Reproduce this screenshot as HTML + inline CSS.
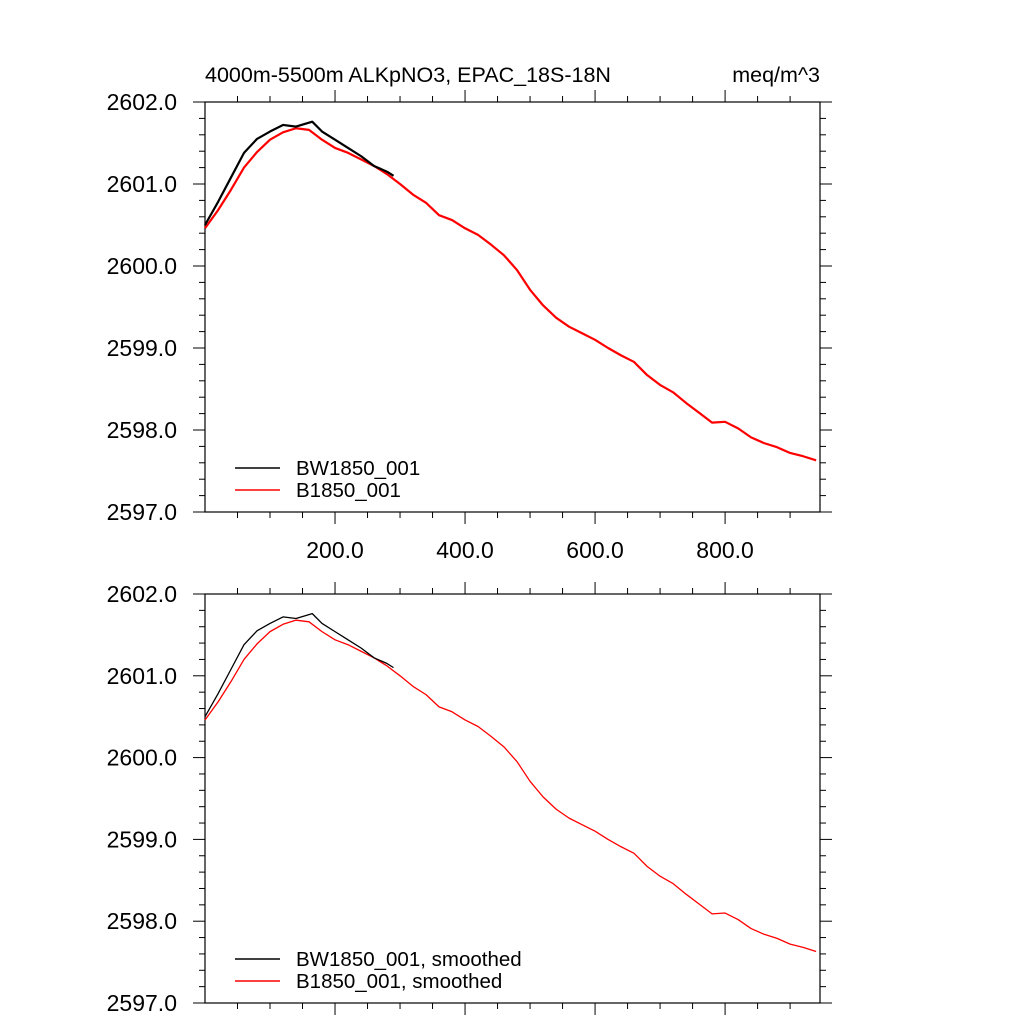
<!DOCTYPE html>
<html><head><meta charset="utf-8"><style>
body{margin:0;background:#fff}
svg text{font-family:"Liberation Sans",sans-serif;fill:#000}
</style></head><body>
<svg id="c" width="1024" height="1024" viewBox="0 0 1024 1024">
<text x="205" y="82" font-size="21.5">4000m-5500m ALKpNO3, EPAC_18S-18N</text>
<text x="820" y="82" font-size="21.5" text-anchor="end">meq/m^3</text>
</svg>
<script>
const xRed=[0,20,40,60,80,100,120,140,160,180,200,220,240,260,280,300,320,340,360,380,400,420,440,460,480,500,520,540,560,580,600,620,640,660,680,700,720,740,760,780,800,820,840,860,880,900,920,940];
const redVals=[2600.46,2600.68,2600.93,2601.2,2601.39,2601.54,2601.63,2601.68,2601.66,2601.54,2601.44,2601.38,2601.3,2601.22,2601.12,2601.0,2600.87,2600.77,2600.62,2600.56,2600.46,2600.38,2600.26,2600.13,2599.95,2599.71,2599.52,2599.37,2599.26,2599.18,2599.1,2599.0,2598.91,2598.83,2598.67,2598.55,2598.46,2598.33,2598.21,2598.09,2598.1,2598.02,2597.91,2597.84,2597.79,2597.72,2597.68,2597.63];
const xBlack=[0,20,40,60,80,100,120,140,165,180,200,220,240,260,280,290];
const blackVals=[2600.5,2600.78,2601.08,2601.38,2601.55,2601.64,2601.72,2601.7,2601.76,2601.64,2601.54,2601.44,2601.34,2601.22,2601.15,2601.1];
const xTicks=[200,400,600,800];
const xTickLabels=["200.0","400.0","600.0","800.0"];
const yTicks=[2597,2598,2599,2600,2601,2602];
const yTickLabels=["2597.0","2598.0","2599.0","2600.0","2601.0","2602.0"];
const legendTop=["BW1850_001","B1850_001"];
const legendBot=["BW1850_001, smoothed","B1850_001, smoothed"];

const svg=document.getElementById('c');
const NS='http://www.w3.org/2000/svg';
function mk(t,a){const e=document.createElementNS(NS,t);for(const k in a)e.setAttribute(k,a[k]);svg.appendChild(e);return e;}
const L=205,R=820,X0=0,X1=946,Y0=2597,Y1=2602;
function panel(top,bot,legend,showX,sw,idx){
  const sx=v=>L+(v-X0)/(X1-X0)*(R-L);
  const sy=v=>bot-(v-Y0)/(Y1-Y0)*(bot-top);
  const f=mk('rect',{x:L,y:top,width:R-L,height:bot-top,fill:'none',stroke:'#000','stroke-width':1.2});
  
  
  for(let v=50;v<X1;v+=50){const maj=v%200===0;const l=maj?12:6;
    mk('line',{x1:sx(v),x2:sx(v),y1:top,y2:top-l,stroke:'#000'});
    mk('line',{x1:sx(v),x2:sx(v),y1:bot,y2:bot+l,stroke:'#000'});}
  for(let i=0;i<=25;i++){const v=Y0+i*0.2;const maj=i%5===0;const l=maj?12:6;
    mk('line',{x1:L,x2:L-l,y1:sy(v),y2:sy(v),stroke:'#000'});
    mk('line',{x1:R,x2:R+l,y1:sy(v),y2:sy(v),stroke:'#000'});}
  yTicks.forEach((v,i)=>{const t=mk('text',{x:177,y:sy(v)+8,'font-size':23,'text-anchor':'end'});t.textContent=yTickLabels[i];
    
    });
  if(showX)xTicks.forEach((v,i)=>{const t=mk('text',{x:sx(v),y:bot+46,'font-size':23,'text-anchor':'middle'});t.textContent=xTickLabels[i];
    
    });
  const line=(xs,ys,c,n)=>{const p=mk('polyline',{points:xs.map((x,i)=>sx(x)+','+sy(ys[i])).join(' '),fill:'none',stroke:c,'stroke-width':sw,'stroke-linejoin':'round'});
    
    };
  line(xRed,redVals,'#f00','series-b1850-'+idx);
  line(xBlack,blackVals,'#000','series-bw1850-'+idx);
  const ly=[bot-44,bot-22],cols=['#000','#f00'];
  legend.forEach((s,i)=>{mk('line',{x1:235,x2:280,y1:ly[i],y2:ly[i],stroke:cols[i],'stroke-width':1.5});
    const t=mk('text',{x:296,y:ly[i]+7,'font-size':20.5});t.textContent=s;
    
    });
}
panel(102,512,legendTop,true,2.2,'top');
panel(594,1003,legendBot,false,1.3,'bottom');
</script>
</body></html>
